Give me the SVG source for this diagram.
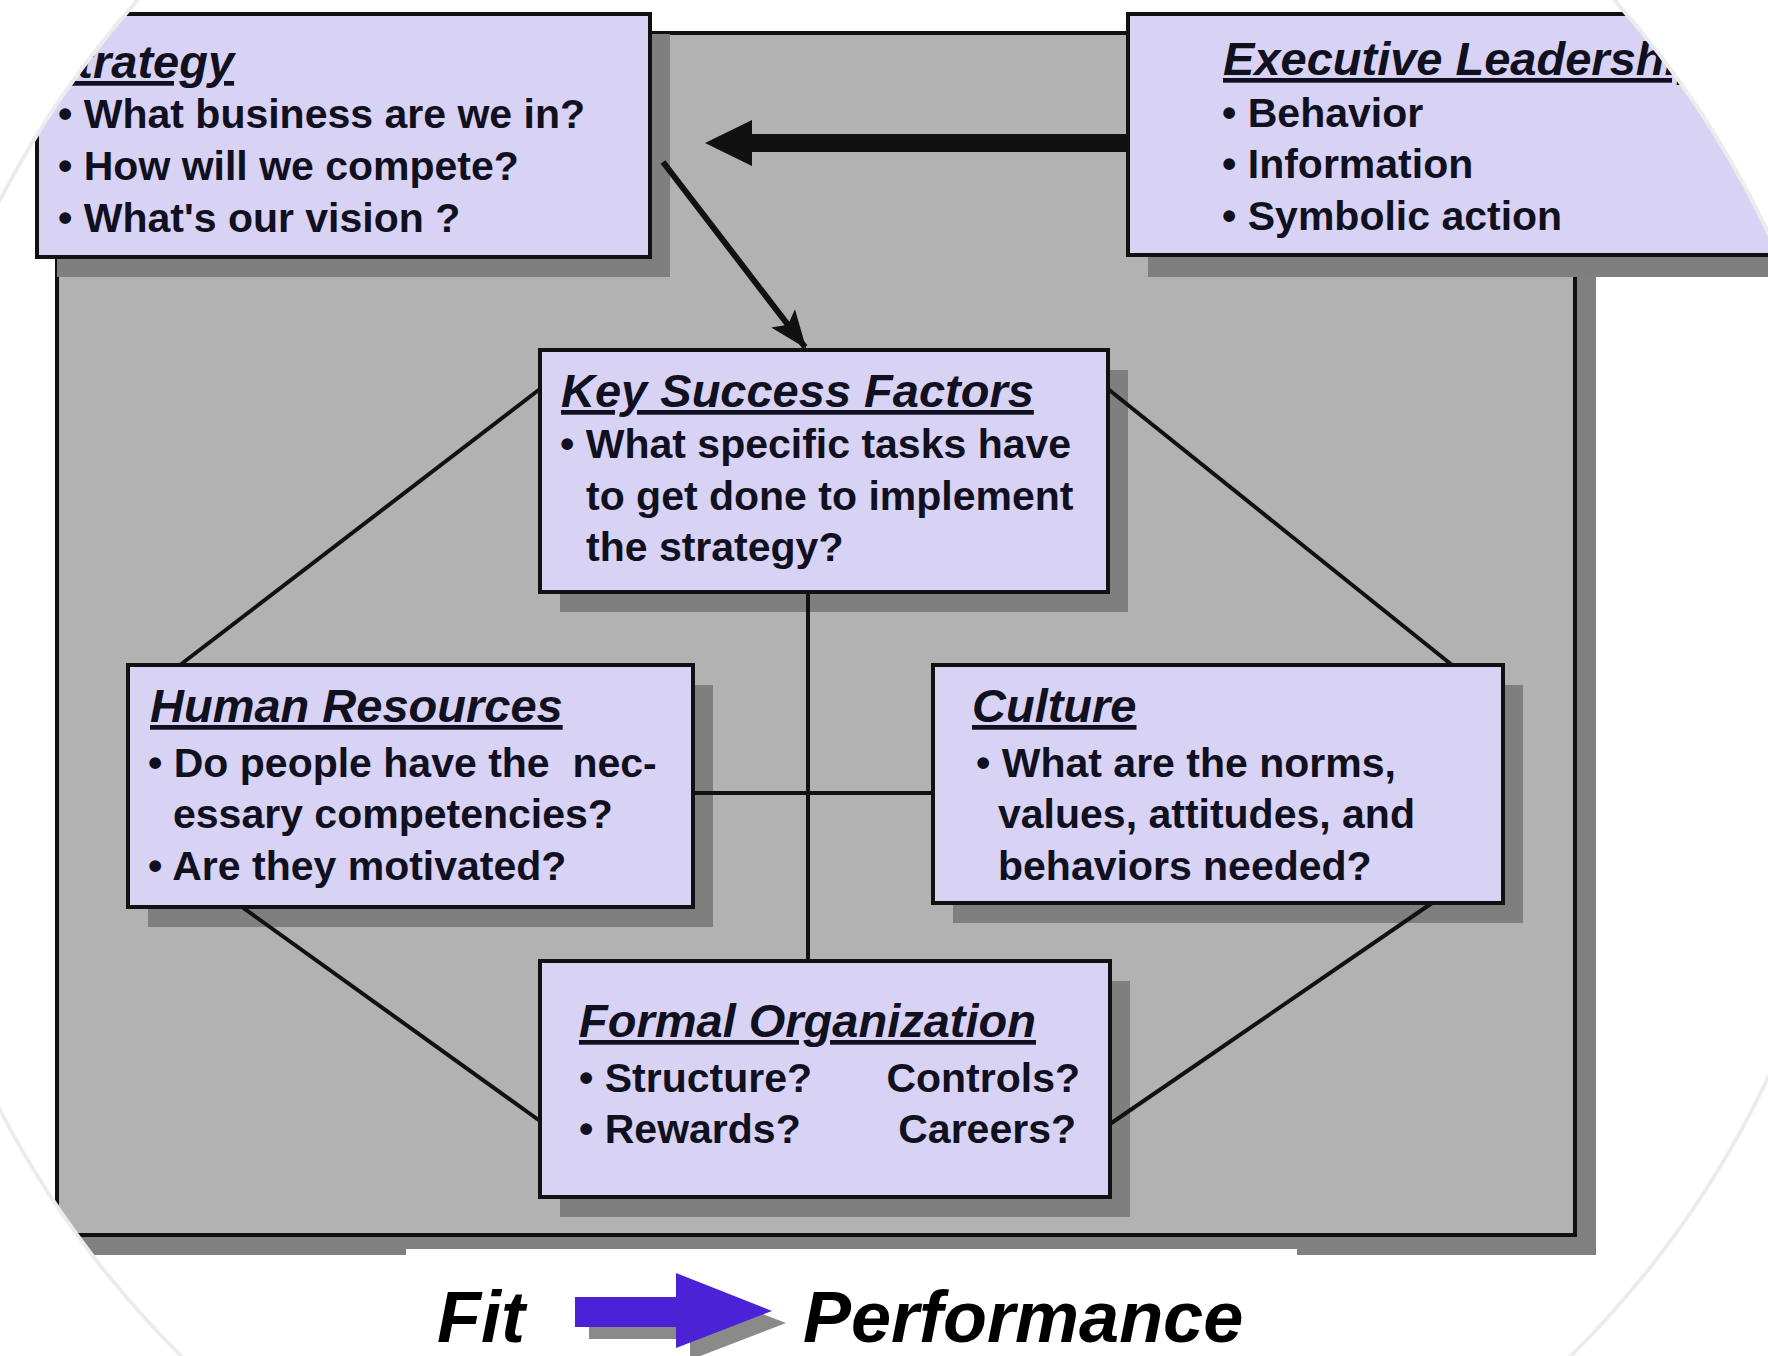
<svg xmlns="http://www.w3.org/2000/svg" width="1768" height="1356" viewBox="0 0 1768 1356">
<style>
.box{fill:#d8d2f4;stroke:#111;stroke-width:4}
.shadow{fill:#7f7f7f}
.hdr{font-family:"Liberation Sans",Arial,sans-serif;font-weight:bold;font-style:italic;font-size:47px;text-decoration:underline;fill:#10101e}
.txt{font-family:"Liberation Sans",Arial,sans-serif;font-weight:bold;font-size:41px;fill:#10101e;white-space:pre}
.conn{stroke:#111;stroke-width:4;fill:none}
.big{font-family:"Liberation Sans",Arial,sans-serif;font-weight:bold;font-style:italic;font-size:72px;fill:#000}
</style>
<defs>
<clipPath id="roundClip"><circle cx="876" cy="655" r="987"/></clipPath>
<marker id="head" markerUnits="userSpaceOnUse" markerWidth="40" markerHeight="34" refX="36" refY="17" orient="auto">
<path d="M0,2 L38,17 L0,32 L8,17 Z" fill="#111"/>
</marker>
</defs>
<rect width="1768" height="1356" fill="#fff"/>
<g clip-path="url(#roundClip)">
<g id="frame">
<rect x="77" y="53" width="1519" height="1202" fill="#808080"/>
<rect x="57" y="33" width="1518" height="1202" fill="#b2b2b2" stroke="#111" stroke-width="4"/>
</g>
<g id="shadows">
<rect class="shadow" x="57" y="34" width="613" height="243"/>
<rect class="shadow" x="1148" y="34" width="660" height="243"/>
<rect class="shadow" x="560" y="370" width="568" height="242"/>
<rect class="shadow" x="148" y="685" width="565" height="242"/>
<rect class="shadow" x="953" y="685" width="570" height="238"/>
<rect class="shadow" x="560" y="981" width="570" height="236"/>
</g>
<g id="connectors">
<line class="conn" x1="540" y1="389" x2="180" y2="665"/>
<line class="conn" x1="1108" y1="389" x2="1452" y2="665"/>
<line class="conn" x1="242" y1="907" x2="540" y2="1121"/>
<line class="conn" x1="1432" y1="903" x2="1110" y2="1124"/>
<line class="conn" x1="808" y1="592" x2="808" y2="961"/>
<line class="conn" x1="693" y1="793" x2="933" y2="793"/>
<line x1="663" y1="162" x2="805" y2="347" stroke="#111" stroke-width="6" marker-end="url(#head)"/>
<polygon points="1130,134 752,134 752,120 705,143 752,166 752,152 1130,152" fill="#111"/>
</g>
<g id="strategy">
<rect class="box" x="37" y="14" width="613" height="243"/>
<text class="hdr" x="46" y="78">Strategy</text>
<text class="txt" x="58" y="128">• What business are we in?</text>
<text class="txt" x="58" y="180">• How will we compete?</text>
<text class="txt" x="58" y="232">• What's our vision ?</text>
</g>
<g id="executive">
<rect class="box" x="1128" y="14" width="680" height="241"/>
<text class="hdr" x="1223" y="75">Executive Leadership</text>
<text class="txt" x="1222" y="127">• Behavior</text>
<text class="txt" x="1222" y="178">• Information</text>
<text class="txt" x="1222" y="230">• Symbolic action</text>
</g>
<g id="ksf">
<rect class="box" x="540" y="350" width="568" height="242"/>
<text class="hdr" x="561" y="407">Key Success Factors</text>
<text class="txt" x="560" y="458">• What specific tasks have</text>
<text class="txt" x="586" y="510">to get done to implement</text>
<text class="txt" x="586" y="561">the strategy?</text>
</g>
<g id="hr">
<rect class="box" x="128" y="665" width="565" height="242"/>
<text class="hdr" x="150" y="722">Human Resources</text>
<text class="txt" x="148" y="777">• Do people have the  nec-</text>
<text class="txt" x="173" y="828">essary competencies?</text>
<text class="txt" x="148" y="880">• Are they motivated?</text>
</g>
<g id="culture">
<rect class="box" x="933" y="665" width="570" height="238"/>
<text class="hdr" x="972" y="722">Culture</text>
<text class="txt" x="976" y="777">• What are the norms,</text>
<text class="txt" x="998" y="828">values, attitudes, and</text>
<text class="txt" x="998" y="880">behaviors needed?</text>
</g>
<g id="formal">
<rect class="box" x="540" y="961" width="570" height="236"/>
<text class="hdr" x="579" y="1037">Formal Organization</text>
<text class="txt" x="579" y="1092">• Structure?</text>
<text class="txt" x="1080" y="1092" text-anchor="end">Controls?</text>
<text class="txt" x="579" y="1143">• Rewards?</text>
<text class="txt" x="1076" y="1143" text-anchor="end">Careers?</text>
</g>
<g id="fit-performance">
<rect x="406" y="1249" width="891" height="120" fill="#fff"/>
<polygon points="589,1310 690,1310 690,1286 786,1323 690,1360 690,1339 589,1339" fill="#8a8a8a"/>
<polygon points="575,1297 676,1297 676,1273 772,1311 676,1348 676,1327 575,1327" fill="#4b22d6"/>
<text class="big" x="437" y="1342">Fit</text>
<text class="big" x="803" y="1342">Performance</text>
</g>
</g>
<circle cx="876" cy="655" r="987" fill="none" stroke="#ececec" stroke-width="4"/>
</svg>
